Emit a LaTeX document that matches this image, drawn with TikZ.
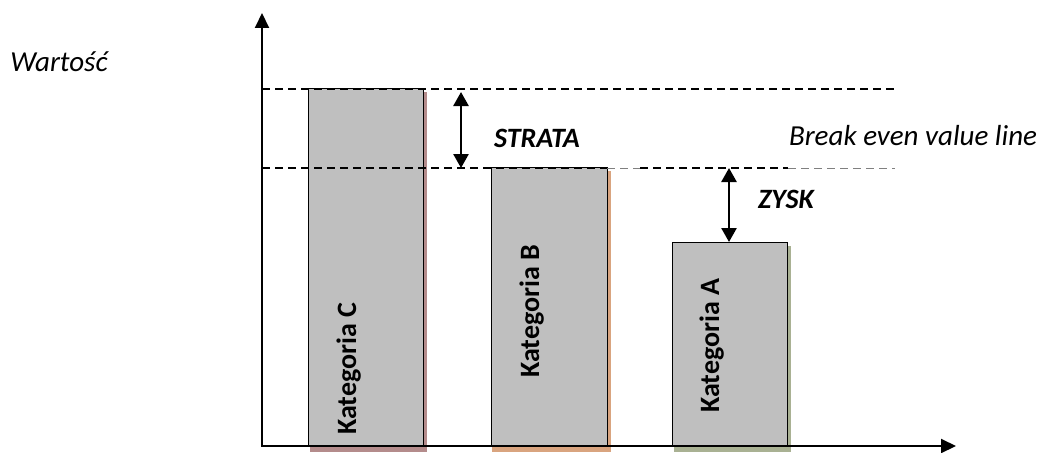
\documentclass[tikz,border=0pt]{standalone}
\usepackage{fontspec}
\setmainfont{Carlito}
\usetikzlibrary{arrows.meta}
\definecolor{barfill}{HTML}{BFBFBF}
\definecolor{shC}{HTML}{B48C8C}
\definecolor{shB}{HTML}{D9A47F}
\definecolor{shA}{HTML}{A9B193}
\tikzset{
  bar/.style={draw=black, line width=1pt, fill=barfill, anchor=south west, inner sep=0pt},
  axis/.style={line width=2pt, -{Triangle[length=15pt,width=14pt]}},
  dim/.style={line width=2.6pt, {Triangle[length=14pt,width=15pt]}-{Triangle[length=14pt,width=15pt]}, shorten <=0pt, shorten >=0pt},
  guide/.style={line width=1.1pt, dash pattern=on 8pt off 5pt},
  faint/.style={line width=0.7pt, draw=gray, dash pattern=on 8pt off 5pt},
  lbl/.style={font=\fontsize{29}{34}\selectfont\itshape, inner sep=0pt},
  blbl/.style={font=\fontsize{28}{33}\selectfont\bfseries\itshape, inner sep=0pt},
  cat/.style={font=\fontsize{28}{33}\selectfont\bfseries, inner sep=0pt, rotate=90, anchor=base west}
}
\begin{document}
\begin{tikzpicture}[x=1pt,y=-1pt]
\useasboundingbox (0,0) rectangle (1040,452);
% shadows
\fill[shC] (423,92) rectangle (427,446);
\fill[shC] (310,447) rectangle (427,452);
\fill[shB] (607,171) rectangle (611,446);
\fill[shB] (492,447) rectangle (611,452);
\fill[shA] (787,246) rectangle (791,446);
\fill[shA] (674,447) rectangle (791,452);
% bars
\node[bar, minimum width=115pt, minimum height=357pt] (barC) at (308,446) {};
\node[bar, minimum width=116pt, minimum height=278pt] (barB) at (491,446) {};
\node[bar, minimum width=115pt, minimum height=203pt] (barA) at (672,446) {};
% guide lines
\coordinate (g1s) at (262,89);
\coordinate (g1e) at (895,89);
\coordinate (g2s) at (262,168);
\coordinate (g2m) at (607,168);
\coordinate (g2n) at (640,168);
\coordinate (g2o) at (788,168);
\coordinate (g2e) at (895,168);
\draw[guide] (g1s) -- (g1e);
\draw[guide] (g2s) -- (g2m);
\draw[faint] (g2m) -- (g2n);
\draw[guide] (g2n) -- (g2o);
\draw[faint] (g2o) -- (g2e);
% axes
\coordinate (origin) at (262,446);
\coordinate (ytop) at (262,13);
\coordinate (xend) at (956,446);
\draw[axis] (origin) -- (ytop);
\draw[axis] ([xshift=-1pt]origin) -- (xend);
% dimension arrows
\coordinate (s1) at (461,92);
\coordinate (s2) at (461,168);
\draw[dim] (s1) -- (s2);
\coordinate (z1) at (729,168);
\draw[dim] (z1) -- (barA.north -| z1);
% labels
\node[lbl] (wart) at (59,62) {Wartość};
\node[blbl] (strata) at (537,138) {STRATA};
\node[blbl] (zysk) at (786,199) {ZYSK};
\node[lbl] (bev) at (913,136) {Break even value line};
\node[cat] (kC) at (356,435) {Kategoria C};
\node[cat] (kB) at (539,378) {Kategoria B};
\node[cat] (kA) at (719,413) {Kategoria A};
\end{tikzpicture}
\end{document}
